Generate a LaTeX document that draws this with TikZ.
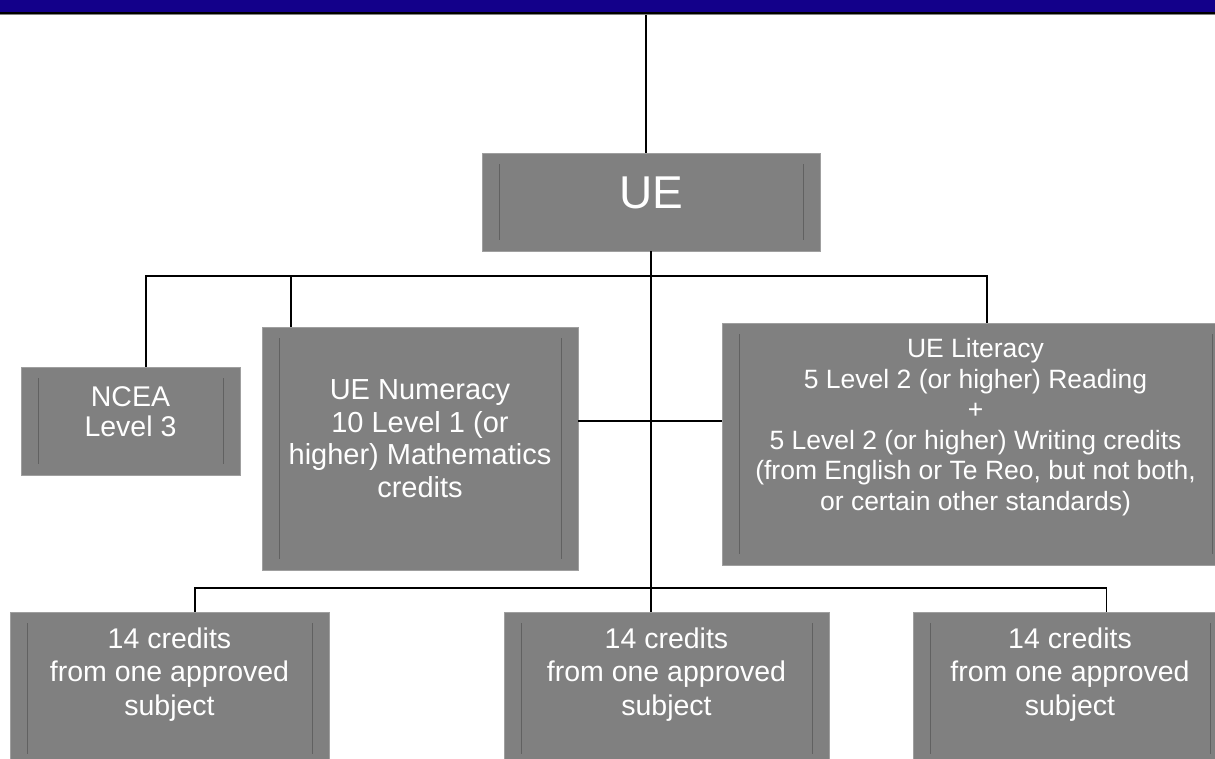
\documentclass[tikz,border=0pt]{standalone}
\usepackage{fontspec}
\setmainfont{Liberation Sans}
\usepackage{tikz}
\definecolor{barblue}{RGB}{19,0,138}

\begin{document}
\begin{tikzpicture}[
		x=1pt,y=-1pt,
		block/.style={draw=gray!75,fill=gray,line width=0.8pt,inner sep=0pt,
			path picture={\draw[black!62,line width=0.8pt]
				([xshift=17pt,yshift=-11pt]path picture bounding box.north west) -- ([xshift=17pt,yshift=11pt]path picture bounding box.south west)
				([xshift=-17pt,yshift=-11pt]path picture bounding box.north east) -- ([xshift=-17pt,yshift=11pt]path picture bounding box.south east);}},
		words/.style={text=white,align=center},
		link/.style={draw=black,line width=1.9pt}
		]
		\useasboundingbox (0,0) rectangle (1215,758);

		% title bar
		\fill[barblue] (0,0) rectangle (1215,12.5);
		\draw[line width=1.5pt] (0,13.2) -- (1215,13.2);
		\draw[gray,line width=1pt] (0,14.6) -- (1215,14.6);

		\path (651,202) node[block,minimum width=338pt,minimum height=98pt,
			label={[words,font=\fontsize{46pt}{50pt}\selectfont,yshift=9.5pt]center:UE}] (ue) {}
		(130.5,421) node[block,minimum width=219pt,minimum height=108pt,
			label={[words,font=\fontsize{28.5pt}{30pt}\selectfont,yshift=9pt]center:{NCEA\\Level 3}}] (ncea) {}
		(420,448.5) node[block,minimum width=316pt,minimum height=243pt,
			label={[words,font=\fontsize{29pt}{32.6pt}\selectfont,yshift=10pt]center:{UE Numeracy\\10 Level 1 (or\\higher) Mathematics\\credits}}] (numeracy) {}
		(975.5,444) node[block,minimum width=507pt,minimum height=242pt,
			label={[words,font=\fontsize{26.5pt}{30.5pt}\selectfont,yshift=17pt]center:{UE Literacy\\5 Level 2 (or higher) Reading\\+\\5 Level 2 (or higher) Writing credits\\(from English or Te Reo, but not both,\\or certain other standards)}}] (literacy) {};

		\path (169.5,688.5) node[block,minimum width=319pt,minimum height=153pt,
			label={[words,font=\fontsize{28.5pt}{33.4pt}\selectfont,yshift=14pt]center:{14 credits\\from one approved\\subject}}] (subject a) {}
		(666.5,688.5) node[block,minimum width=325pt,minimum height=153pt,
			label={[words,font=\fontsize{28.5pt}{33.4pt}\selectfont,yshift=14pt]center:{14 credits\\from one approved\\subject}}] (subject b) {}
		(1070,688.5) node[block,minimum width=314pt,minimum height=153pt,
			label={[words,font=\fontsize{28.5pt}{33.4pt}\selectfont,yshift=14pt]center:{14 credits\\from one approved\\subject}}] (subject c) {};

		\coordinate (bar) at (646,15);
		\coordinate (top bus) at (0,276);
		\coordinate (low bus) at (0,588);

		\draw[link] (bar) -- (bar |- ue.north);
		\draw[link] (ue.south) -- (ue.south |- subject b.north);
		\draw[link] ([xshift=15.5pt]ncea.north) |- ([xshift=11.5pt]literacy.north |- top bus) -- ([xshift=11.5pt]literacy.north);
		\draw[link] ([xshift=29pt]numeracy.north west) -- ([xshift=29pt]numeracy.north west |- top bus);
		\draw[link] ([yshift=27.5pt]numeracy.east) -- ([yshift=27.5pt]numeracy.east -| literacy.west);
		\draw[link] ([xshift=25.5pt]subject a.north) |- ([xshift=36.5pt]subject c.north |- low bus) -- ([xshift=36.5pt]subject c.north);
	\end{tikzpicture}
\end{document}
